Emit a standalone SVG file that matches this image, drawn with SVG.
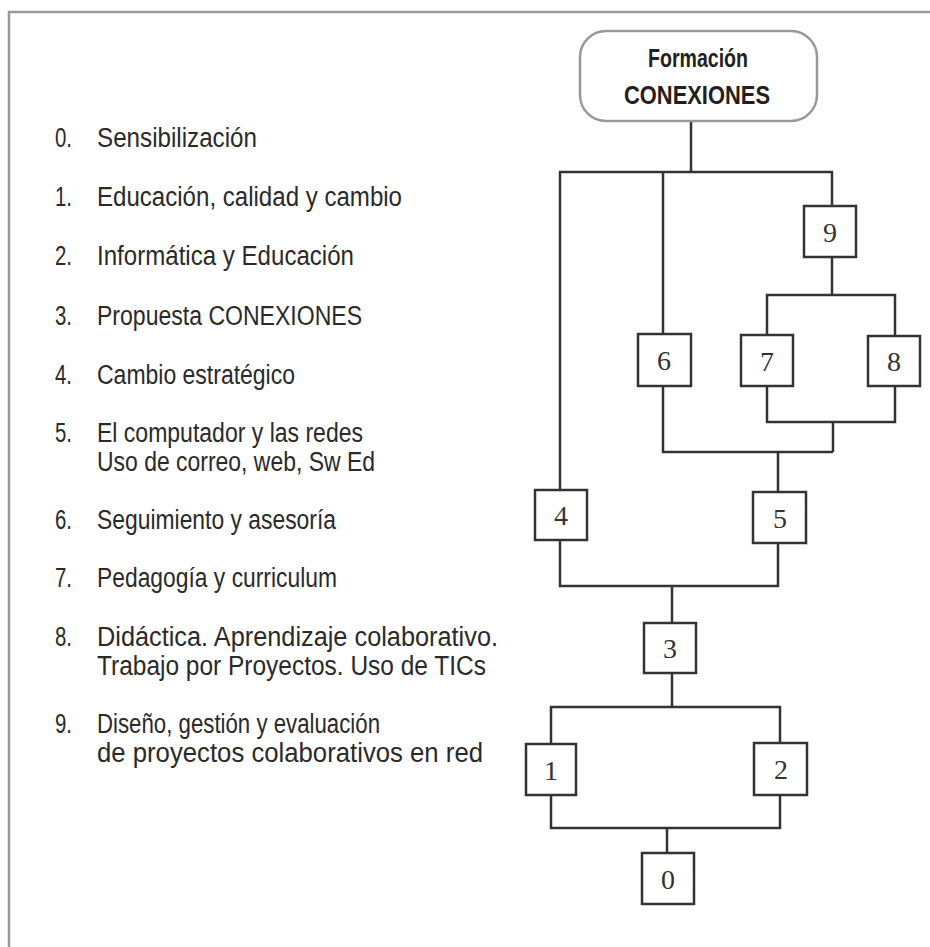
<svg xmlns="http://www.w3.org/2000/svg" width="930" height="947" viewBox="0 0 930 947">
<style>
.frame{fill:none;stroke:#999;stroke-width:2.5}
.item{font-family:"Liberation Sans",Arial,sans-serif;font-size:27px;fill:#2a2a2a}
.box{fill:#fff;stroke:#333;stroke-width:2.5}
.num{font-family:"Liberation Serif","Times New Roman",serif;font-size:28px;fill:#333;text-anchor:middle}
.wire{fill:none;stroke:#333;stroke-width:2.5;stroke-linejoin:miter}
.title{font-family:"Liberation Sans",Arial,sans-serif;font-size:25px;font-weight:bold;fill:#231f20}
</style>
<rect width="930" height="947" fill="#fff"/>
<path class="frame" d="M9,947 V12 H930"/>
<g id="legend">
<text class="item" x="55" y="147" textLength="17" lengthAdjust="spacingAndGlyphs">0.</text><text class="item" x="97" y="147" textLength="160" lengthAdjust="spacingAndGlyphs">Sensibilización</text>
<text class="item" x="55" y="206" textLength="17" lengthAdjust="spacingAndGlyphs">1.</text><text class="item" x="97" y="206" textLength="305" lengthAdjust="spacingAndGlyphs">Educación, calidad y cambio</text>
<text class="item" x="55" y="265" textLength="17" lengthAdjust="spacingAndGlyphs">2.</text><text class="item" x="97" y="265" textLength="257" lengthAdjust="spacingAndGlyphs">Informática y Educación</text>
<text class="item" x="55" y="325" textLength="17" lengthAdjust="spacingAndGlyphs">3.</text><text class="item" x="97" y="325" textLength="265" lengthAdjust="spacingAndGlyphs">Propuesta CONEXIONES</text>
<text class="item" x="55" y="384" textLength="17" lengthAdjust="spacingAndGlyphs">4.</text><text class="item" x="97" y="384" textLength="198" lengthAdjust="spacingAndGlyphs">Cambio estratégico</text>
<text class="item" x="55" y="442" textLength="17" lengthAdjust="spacingAndGlyphs">5.</text><text class="item" x="97" y="442" textLength="266" lengthAdjust="spacingAndGlyphs">El computador y las redes</text>
<text class="item" x="97" y="471" textLength="278" lengthAdjust="spacingAndGlyphs">Uso de correo, web, Sw Ed</text>
<text class="item" x="55" y="529" textLength="17" lengthAdjust="spacingAndGlyphs">6.</text><text class="item" x="97" y="529" textLength="239" lengthAdjust="spacingAndGlyphs">Seguimiento y asesoría</text>
<text class="item" x="55" y="587" textLength="17" lengthAdjust="spacingAndGlyphs">7.</text><text class="item" x="97" y="587" textLength="240" lengthAdjust="spacingAndGlyphs">Pedagogía y curriculum</text>
<text class="item" x="55" y="646" textLength="17" lengthAdjust="spacingAndGlyphs">8.</text><text class="item" x="97" y="646" textLength="401" lengthAdjust="spacingAndGlyphs">Didáctica. Aprendizaje colaborativo.</text>
<text class="item" x="97" y="675" textLength="389" lengthAdjust="spacingAndGlyphs">Trabajo por Proyectos. Uso de TICs</text>
<text class="item" x="55" y="733" textLength="17" lengthAdjust="spacingAndGlyphs">9.</text><text class="item" x="97" y="733" textLength="283" lengthAdjust="spacingAndGlyphs">Diseño, gestión y evaluación</text>
<text class="item" x="97" y="762" textLength="386" lengthAdjust="spacingAndGlyphs">de proyectos colaborativos en red</text>
</g>
<g id="connectors">
<path class="wire" d="M691,121 V172"/>
<path class="wire" d="M560,490 V172 H832 V206"/>
<path class="wire" d="M663,172 V334"/>
<path class="wire" d="M832,257 V295"/>
<path class="wire" d="M767,335 V295 H895 V336"/>
<path class="wire" d="M767,386 V422 H895 V386"/>
<path class="wire" d="M833,422 V452"/>
<path class="wire" d="M663,386 V452 H833"/>
<path class="wire" d="M778,452 V492"/>
<path class="wire" d="M560,540 V586 H778 V543"/>
<path class="wire" d="M672,586 V623"/>
<path class="wire" d="M672,673 V707"/>
<path class="wire" d="M551,744 V707 H780 V743"/>
<path class="wire" d="M551,795 V828 H780 V795"/>
<path class="wire" d="M667,828 V853"/>
</g>
<g id="root">
<rect x="580" y="31" width="237" height="90" rx="26" ry="26" fill="#fff" stroke="#999" stroke-width="2.5"/>
<text class="title" x="648" y="67" textLength="100" lengthAdjust="spacingAndGlyphs">Formación</text>
<text class="title" x="624" y="104" textLength="146" lengthAdjust="spacingAndGlyphs">CONEXIONES</text>
</g>
<g id="n9"><rect class="box" x="804" y="206" width="52" height="51"/><text class="num" x="830" y="242">9</text></g>
<g id="n6"><rect class="box" x="638" y="334" width="53" height="52"/><text class="num" x="664" y="370">6</text></g>
<g id="n7"><rect class="box" x="741" y="335" width="52" height="51"/><text class="num" x="767" y="371">7</text></g>
<g id="n8"><rect class="box" x="868" y="336" width="52" height="50"/><text class="num" x="894" y="371">8</text></g>
<g id="n4"><rect class="box" x="535" y="490" width="52" height="50"/><text class="num" x="561" y="525">4</text></g>
<g id="n5"><rect class="box" x="753" y="492" width="53" height="51"/><text class="num" x="780" y="528">5</text></g>
<g id="n3"><rect class="box" x="644" y="623" width="52" height="50"/><text class="num" x="670" y="658">3</text></g>
<g id="n1"><rect class="box" x="526" y="744" width="50" height="51"/><text class="num" x="551" y="780">1</text></g>
<g id="n2"><rect class="box" x="754" y="743" width="53" height="52"/><text class="num" x="781" y="779">2</text></g>
<g id="n0"><rect class="box" x="642" y="853" width="52" height="51"/><text class="num" x="668" y="889">0</text></g>
</svg>
